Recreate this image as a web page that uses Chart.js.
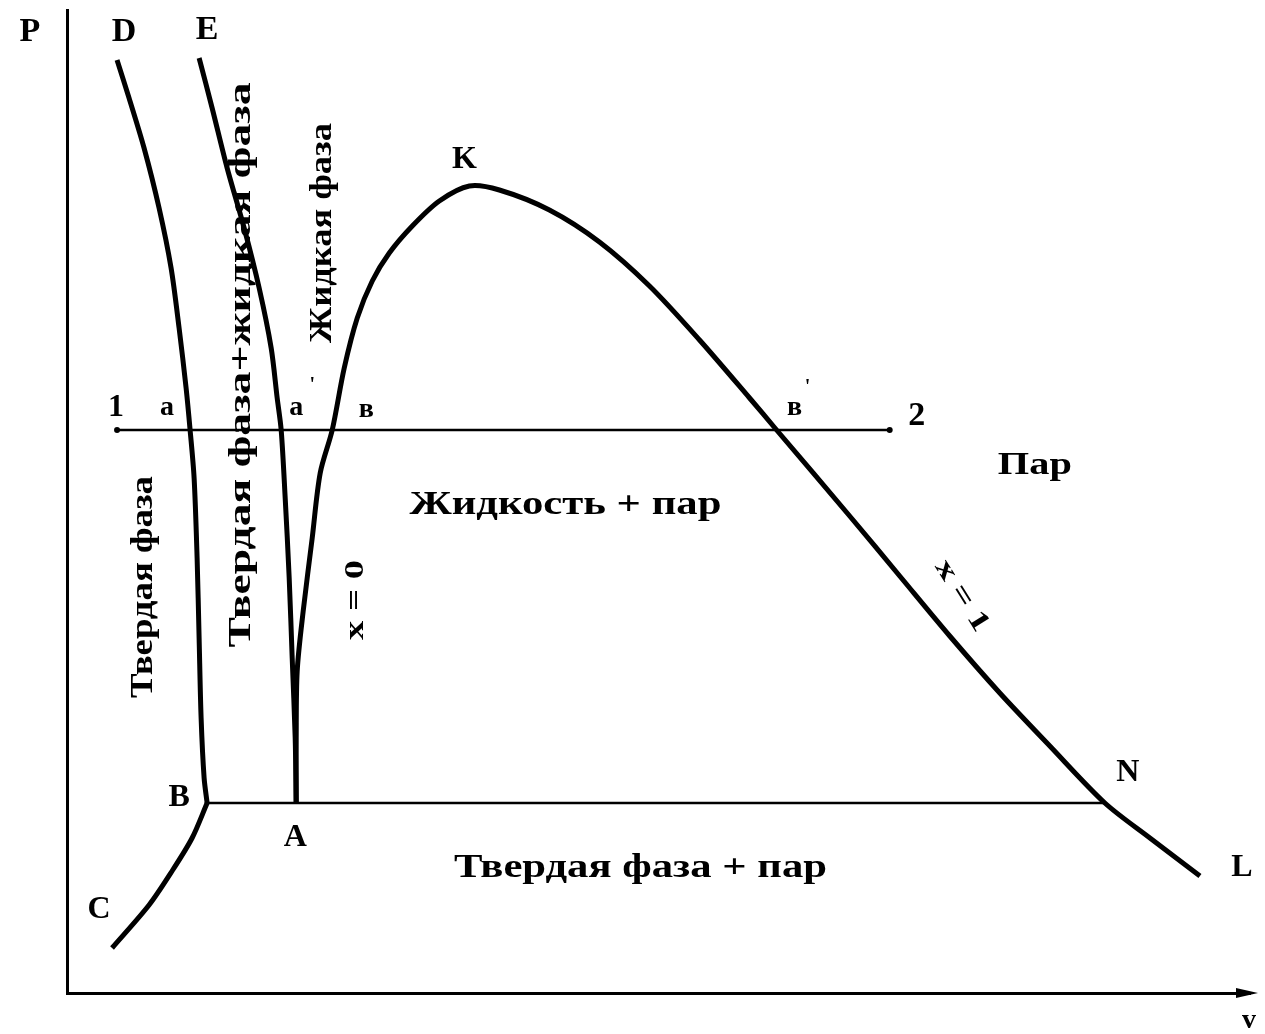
<!DOCTYPE html>
<html>
<head>
<meta charset="utf-8">
<script src="https://cdn.jsdelivr.net/npm/chart.js@4/dist/chart.umd.min.js"></script>
<style>
  html, body { margin: 0; padding: 0; background: #fff; }
  canvas { display: block; }
</style>
</head>
<body>
<canvas id="phaseChart" width="1265" height="1034"></canvas>
<script>
// P-v phase diagram, units: v across, P up (arbitrary)
const curveDB_v = [50, 62, 77, 92, 104, 112, 119, 123, 127, 130, 132, 134, 137, 140]
const curveDB_p = [933, 895, 845, 785, 725, 665, 605, 563, 515, 435, 355, 275, 215, 190]

const curveBC_v = [140, 125, 105, 82, 45]
const curveBC_p = [190, 155, 122, 88, 45]

const curveEA_v = [132, 145, 160, 177, 192, 204, 210, 214, 218, 222, 225, 228, 229]
const curveEA_p = [935, 885, 825, 765, 705, 645, 595, 563, 495, 415, 335, 255, 190]

// x = 0 branch (A -> K) then x = 1 branch (K -> L)
const curveAKL_v = [229, 229, 230, 236, 245, 253, 265, 277, 290, 305, 322, 345, 372, 402,
  432, 482, 532, 582, 632, 682, 709, 782, 832, 882, 932, 982, 1037, 1082, 1132]
const curveAKL_p = [190, 255, 322, 382, 455, 520, 563, 625, 675, 712, 740, 767, 792, 807,
  803, 783, 751, 707, 653, 595, 563, 477, 417, 357, 300, 247, 190, 155, 117]

const line12_v = [50, 822]
const line12_p = [563, 563]
const lineBN_v = [140, 1037]
const lineBN_p = [190, 190]

// w = width of the text in the picture
const labels = [
  { t: "P", v: -37, p: 961, size: 34 },
  { t: "D", v: 57, p: 961, size: 34 },
  { t: "E", v: 140, p: 963, size: 34 },
  { t: "K", v: 397, p: 833, size: 32 },
  { t: "1", v: 49, p: 585, size: 32 },
  { t: "a", v: 100, p: 585, size: 28 },
  { t: "a", v: 229, p: 585, size: 28 },
  { t: "'", v: 245, p: 607, size: 20 },
  { t: "в", v: 299, p: 583, size: 28 },
  { t: "в", v: 727, p: 585, size: 28 },
  { t: "'", v: 740, p: 605, size: 20 },
  { t: "2", v: 849, p: 577, size: 34 },
  { t: "Пар", v: 967, p: 527, size: 32, w: 74 },
  { t: "Жидкость + пар", v: 498, p: 488, size: 34, w: 312 },
  { t: "x = 0", v: 289, p: 393, size: 28, w: 80, rot: -90 },
  { t: "x = 1", v: 894, p: 397, size: 28, w: 80, rot: 58 },
  { t: "Твердая фаза", v: 77, p: 406, size: 32, w: 222, rot: -90 },
  { t: "Твердая фаза+жидкая фаза", v: 175, p: 628, size: 32, w: 565, rot: -90 },
  { t: "Жидкая фаза", v: 256, p: 760, size: 32, w: 220, rot: -90 },
  { t: "B", v: 112, p: 195, size: 32 },
  { t: "A", v: 228, p: 155, size: 32 },
  { t: "C", v: 32, p: 83, size: 32 },
  { t: "N", v: 1060, p: 220, size: 32 },
  { t: "L", v: 1174, p: 125, size: 32 },
  { t: "Твердая фаза + пар", v: 573, p: 125, size: 34, w: 373 },
  { t: "v", v: 1181, p: -28, size: 28 }
]

function pts(vs, ps) {
  return vs.map((v, i) => ({ x: v, y: ps[i] }))
}

const textPlugin = {
  id: "phaseText",
  afterDraw(chart) {
    const ctx = chart.ctx
    const xs = chart.scales.x
    const ys = chart.scales.y
    ctx.save()
    // arrow head on the v axis
    const ax = xs.right
    const ay = ys.bottom
    ctx.fillStyle = "#000"
    ctx.beginPath()
    ctx.moveTo(ax + 8, ay)
    ctx.lineTo(ax - 14, ay - 5)
    ctx.lineTo(ax - 14, ay + 5)
    ctx.closePath()
    ctx.fill()

    ctx.textAlign = "center"
    ctx.textBaseline = "middle"
    labels.forEach(l => {
      ctx.font = "bold " + l.size + "px 'Liberation Serif', serif"
      ctx.save()
      ctx.translate(xs.getPixelForValue(l.v), ys.getPixelForValue(l.p))
      if (l.rot) ctx.rotate(l.rot * Math.PI / 180)
      if (l.w) ctx.scale(l.w / ctx.measureText(l.t).width, 1)
      ctx.fillText(l.t, 0, 0)
      ctx.restore()
    })
    ctx.restore()
  }
}

const curveStyle = {
  showLine: true,
  borderColor: "#000",
  borderWidth: 5,
  pointRadius: 0,
  tension: 0.3,
  fill: false
}

const config = {
  type: "scatter",
  data: {
    datasets: [
      { ...curveStyle, label: "DB", data: pts(curveDB_v, curveDB_p) },
      { ...curveStyle, label: "BC", data: pts(curveBC_v, curveBC_p) },
      { ...curveStyle, label: "EA", data: pts(curveEA_v, curveEA_p) },
      { ...curveStyle, label: "AKL", data: pts(curveAKL_v, curveAKL_p) },
      { ...curveStyle, label: "1-2", data: pts(line12_v, line12_p), borderWidth: 2.5, tension: 0,
        pointRadius: 3, pointBackgroundColor: "#000", pointBorderWidth: 0 },
      { ...curveStyle, label: "BN", data: pts(lineBN_v, lineBN_p), borderWidth: 2.5, tension: 0 }
    ]
  },
  options: {
    responsive: false,
    animation: false,
    layout: { padding: { left: 59, top: 10, right: 15, bottom: 33 } },
    plugins: { legend: { display: false }, tooltip: { enabled: false } },
    scales: {
      x: {
        type: "linear", min: 0, max: 1182,
        grid: { display: false },
        ticks: { display: false },
        border: { display: true, color: "#000", width: 3 }
      },
      y: {
        type: "linear", min: 0, max: 983,
        grid: { display: false },
        ticks: { display: false },
        border: { display: true, color: "#000", width: 3 }
      }
    }
  },
  plugins: [textPlugin]
}

let phaseChart = new Chart(document.getElementById("phaseChart"), config)
</script>
</body>
</html>
